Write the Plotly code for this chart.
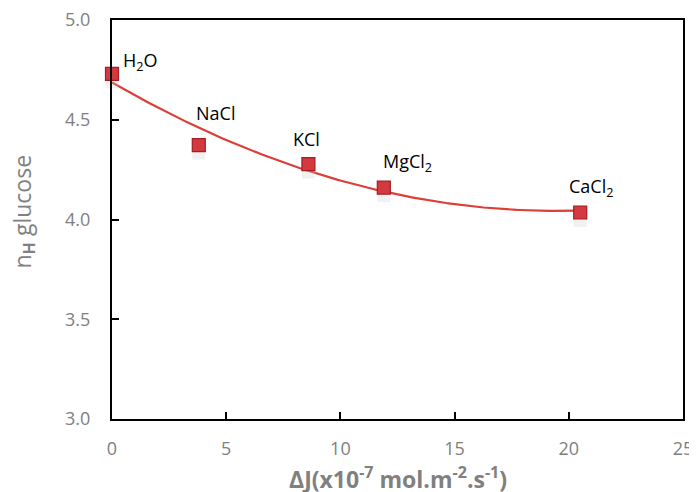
import numpy as np
import plotly.graph_objects as go

salts = ["H<sub>2</sub>O", "NaCl", "KCl", "MgCl<sub>2</sub>", "CaCl<sub>2</sub>"]
delta_j = [0.0, 3.8, 8.6, 11.9, 20.5]
n_h = [4.73, 4.373, 4.278, 4.16, 4.035]

x_ticks = [0, 5, 10, 15, 20, 25]
y_ticks = [3.0, 3.5, 4.0, 4.5, 5.0]

# second-order polynomial trendline fitted to the data (as in the original spreadsheet chart)
coef = np.polyfit(delta_j, n_h, 2)
xf = np.linspace(min(delta_j), max(delta_j), 200)
yf = np.polyval(coef, xf)

FONT = "Open Sans, Liberation Sans, sans-serif"
GREY = "#808080"

fig = go.Figure()
fig.add_trace(go.Scatter(x=xf, y=yf, mode="lines",
                         line=dict(color="#dc3f38", width=2.2), hoverinfo="skip"))
# faint reflection/shadow under markers
fig.add_trace(go.Scatter(x=delta_j, y=[v - 0.04 for v in n_h], mode="markers",
                         marker=dict(symbol="square", size=13, color="rgba(200,200,200,0.25)",
                                     line=dict(width=0)), hoverinfo="skip", cliponaxis=False))
fig.add_trace(go.Scatter(x=delta_j, y=n_h, mode="markers", cliponaxis=False,
                         marker=dict(symbol="square", size=13, color="#d33a3f",
                                     line=dict(color="#a61c22", width=1.2))))

offsets = [(9, 12), (17, 32), (-2, 25), (24, 25), (11, 25)]
anchors = ["left", "center", "center", "center", "center"]
for s, x, y, (dx, dy), a in zip(salts, delta_j, n_h, offsets, anchors):
    fig.add_annotation(x=x, y=y, text=s, showarrow=False, xanchor=a, yanchor="middle",
                       xshift=dx, yshift=dy,
                       font=dict(family=FONT, size=18, color="black"))

# axis titles
fig.add_annotation(xref="paper", yref="paper", x=0, y=0.5, xanchor="center", yanchor="middle",
                   xshift=-89, yshift=8, textangle=-90, showarrow=False,
                   text="n<sub><b>H</b></sub> glucose", font=dict(family=FONT, size=23, color=GREY))
fig.add_annotation(xref="paper", yref="paper", x=0.5, y=0, xanchor="center", yanchor="middle",
                   yshift=-59, showarrow=False,
                   text="<b>ΔJ(x10<sup>-7</sup> mol.m<sup>-2</sup>.s<sup>-1</sup>)</b>",
                   font=dict(family=FONT, size=23, color=GREY))

fig.update_layout(
    width=697, height=492,
    margin=dict(l=104, r=22, t=12, b=81, autoexpand=False),
    plot_bgcolor="white", paper_bgcolor="white",
    showlegend=False,
    font=dict(family=FONT, color=GREY),
)
fig.update_xaxes(range=[0, 25], tickvals=x_ticks, ticktext=[str(v) for v in x_ticks],
                 automargin=False, ticklabeloverflow="allow",
                 showgrid=False, zeroline=False, showline=True, linecolor="black", linewidth=2,
                 mirror=True, ticks="inside", ticklen=7, tickwidth=2, tickcolor="black",
                 ticklabelstandoff=12,
                 tickfont=dict(family=FONT, size=18, color=GREY))
fig.update_yaxes(range=[3.0, 5.0], tickvals=y_ticks, ticktext=[f"{v:.1f}" for v in y_ticks],
                 automargin=False, ticklabeloverflow="allow",
                 showgrid=False, zeroline=False, showline=True, linecolor="black", linewidth=2,
                 mirror=True, ticks="inside", ticklen=7, tickwidth=2, tickcolor="black",
                 ticklabelstandoff=16,
                 tickfont=dict(family=FONT, size=18, color=GREY))

fig.write_html("out.html")
